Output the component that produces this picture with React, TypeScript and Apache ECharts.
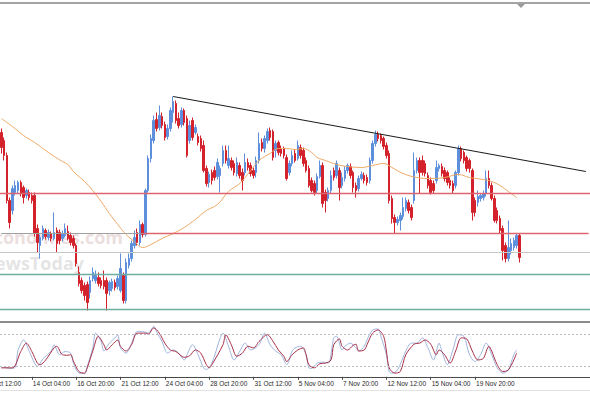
import React, { useEffect, useRef } from "react";
import * as echarts from "echarts";

// ---- data (price units are arbitrary) ----
// candles: [open, close, low, high], one per 4H bar
const candles: number[][] = [
  [198,183,177,202],[190,175,170,193],[175,130,127,178],[130,108,102,133],[120,142,116,145],
  [138,145,135,150],[140,148,137,150],[148,137,134,150],[143,133,127,145],[135,140,132,142],
  [138,133,130,141],[135,130,127,138],[135,97,94,138],[102,88,78,106],[85,93,72,96],
  [92,102,90,105],[100,94,91,102],[93,98,90,101],[97,92,89,99],[92,98,90,118],
  [100,87,78,103],[98,90,86,101],[92,97,89,100],[95,102,93,107],[99,92,90,105],
  [95,88,85,98],[92,85,82,95],[85,67,64,87],[58,47,44,64],[50,40,37,53],
  [45,35,30,48],[46,28,20,49],[38,50,32,54],[52,58,49,63],[50,55,47,60],
  [53,47,44,58],[50,45,42,53],[50,44,41,60],[50,37,20,53],[40,48,35,50],
  [42,49,39,52],[48,43,40,51],[44,52,41,55],[40,62,38,77],[55,30,27,58],
  [30,68,27,72],[65,72,62,77],[72,87,69,90],[85,93,82,100],[98,88,85,102],
  [88,106,85,110],[106,96,93,108],[96,140,94,142],[140,172,138,175],[172,192,168,196],
  [190,210,187,215],[211,202,199,218],[203,215,200,225],[214,205,202,218],[206,193,190,209],
  [194,202,191,206],[202,220,199,223],[218,229,208,234],[227,210,207,230],[212,205,202,218],
  [206,220,203,223],[220,208,205,222],[212,175,173,215],[190,205,187,210],[210,193,190,213],
  [198,203,196,206],[194,188,185,197],[192,182,179,195],[185,160,158,190],[162,147,144,165],
  [148,156,143,159],[158,150,146,161],[160,153,150,164],[154,168,151,172],[155,162,138,165],
  [167,180,164,185],[180,170,167,185],[165,172,162,185],[170,163,160,173],[167,158,155,170],
  [157,168,154,173],[165,155,152,168],[158,150,140,162],[158,168,155,177],[168,163,160,172],
  [165,157,154,168],[160,155,152,163],[158,170,153,174],[170,187,167,198],[188,182,179,192],
  [182,192,178,195],[190,199,187,202],[200,193,190,203],[199,173,170,201],[180,187,173,190],
  [188,178,175,190],[182,177,174,185],[182,175,172,184],[173,152,150,176],[158,167,155,170],
  [167,175,164,180],[177,170,168,181],[172,185,170,190],[183,175,172,186],[180,167,164,183],
  [170,160,158,173],[162,145,143,165],[150,140,138,153],[147,138,135,150],[140,154,137,157],
  [154,165,152,170],[165,127,123,168],[138,130,118,141],[132,140,129,143],[140,155,137,160],
  [160,153,150,163],[155,167,152,170],[160,143,130,163],[145,153,142,158],[152,160,149,164],
  [160,165,157,167],[164,155,152,167],[158,143,138,160],[145,140,133,148],[142,152,139,155],
  [152,156,150,159],[155,150,147,158],[153,148,145,156],[150,170,147,173],[170,187,167,190],
  [187,196,184,200],[196,192,189,199],[195,190,187,197],[192,184,181,194],[185,175,172,188],
  [177,130,127,180],[132,112,107,135],[113,108,97,116],[108,111,105,114],[110,115,100,118],
  [114,123,111,133],[122,130,119,133],[128,120,117,131],[123,113,110,126],[130,160,127,178],
  [160,170,157,173],[170,158,137,173],[170,158,155,175],[167,157,154,170],[155,145,142,158],
  [150,138,136,153],[147,140,137,150],[150,163,147,170],[162,165,159,167],[164,157,154,167],
  [160,152,149,163],[158,148,145,160],[150,145,142,153],[147,140,137,150],[145,158,142,160],
  [158,182,155,185],[182,172,169,184],[178,170,167,180],[173,162,159,175],[170,162,158,172],
  [160,118,110,162],[130,118,114,133],[128,134,124,140],[132,135,129,137],[133,137,130,140],
  [137,152,134,160],[152,145,142,160],[145,132,130,148],[132,110,108,135],[120,110,107,123],
  [112,100,97,115],[102,80,70,105],[85,72,68,88],[72,83,69,110],[80,87,76,92],
  [83,90,80,93],[85,95,82,97],[95,73,68,97],
];

// moving average, read at [bar index, value]
const maPoints: number[][] = [
  [0,212],[4,204],[8,195],[12,188],[17,178],[22,169],[24,166],[26,159],[30,149],[33,140],
  [36,129],[39,117],[42,106],[45,96],[48,89],[51,83],[54,86],[58,92],[62,97],[66,103],
  [70,111],[74,120],[78,126],[82,139],[86,147],[90,160],[93,170],[97,177],[100,182],[103,182],
  [106,181],[109,182],[112,178],[114,173],[117,170],[121,166],[125,164],[130,163],[134,165],[138,167],
  [141,163],[145,157],[150,153],[155,152],[160,153],[165,156],[169,153],[174,151],[177,149],[180,145],
  [183,139],[186,133],
];

// stochastic %K and %D, read at [bar index, value 0..100]
const stochK: number[][] = [
  [0,17],[1,18],[3,16],[5,18],[6,50],[8,70],[10,49],[12,26],[13,20],[15,34],[18,49],[19,61],
  [21,42],[23,48],[25,45],[26,26],[28,7],[30,6],[31,20],[33,55],[34,83],[36,67],[37,49],[39,64],
  [41,74],[42,80],[43,55],[45,45],[47,64],[49,86],[51,86],[53,83],[55,96],[56,86],[58,67],[60,45],
  [62,51],[64,45],[66,32],[67,42],[69,61],[71,42],[73,17],[74,14],[76,26],[79,74],[80,83],[82,58],
  [84,32],[86,48],[88,64],[90,51],[93,61],[95,83],[97,61],[99,49],[101,42],[103,23],[105,49],[106,55],
  [108,58],[110,42],[111,17],[112,16],[114,26],[116,28],[118,26],[120,74],[121,77],[123,51],[124,58],
  [126,64],[128,55],[129,49],[131,58],[132,70],[134,89],[136,91],[137,77],[139,42],[140,10],[141,7],
  [143,13],[146,49],[148,64],[150,64],[152,74],[154,55],[156,32],[158,64],[159,49],[161,23],[163,51],
  [165,80],[167,77],[169,42],[171,29],[173,42],[175,64],[177,42],[179,17],[181,7],[183,13],[185,42],
  [186,51],
];
const stochD: number[][] = [
  [0,17],[4,17],[7,48],[9,64],[11,48],[13,26],[14,23],[16,32],[19,55],[20,58],[22,42],[24,41],
  [25,42],[26,30],[28,10],[30,7],[31,17],[33,49],[35,77],[37,61],[38,51],[40,61],[42,70],[43,58],
  [45,49],[47,61],[49,83],[52,83],[53,81],[55,93],[57,83],[59,64],[61,51],[63,48],[66,37],[68,40],
  [70,51],[72,45],[74,23],[75,17],[76,23],[80,61],[81,80],[83,61],[85,39],[87,45],[89,58],[91,55],
  [93,67],[96,80],[98,68],[100,51],[102,39],[103,29],[105,42],[107,51],[109,55],[110,42],[111,23],
  [113,17],[115,25],[117,26],[119,32],[120,61],[122,72],[123,58],[125,51],[127,60],[128,62],[129,49],
  [131,51],[132,61],[134,83],[136,89],[138,77],[139,49],[140,17],[142,7],[144,10],[146,42],[149,62],
  [151,64],[153,70],[155,62],[157,42],[158,51],[160,42],[162,26],[164,49],[166,74],[168,72],[170,49],
  [172,32],[174,35],[176,58],[177,49],[179,23],[181,10],[183,13],[185,32],[186,45],
];

// time axis: total bar slots visible and the labelled bars
const slotCount = 213;
const tickIndex = [11, 27, 43, 59, 75, 91, 107, 123, 139, 155, 171];
const tickLabels = [
  "14 Oct 04:00", "16 Oct 20:00", "21 Oct 12:00", "24 Oct 04:00", "28 Oct 20:00",
  "31 Oct 12:00", "5 Nov 04:00", "7 Nov 20:00", "12 Nov 12:00", "15 Nov 04:00", "19 Nov 20:00",
];
const cutLabel = "9 Oct 12:00";

// drawn levels
const redLevels = [137];
const redRay = { from: 51, value: 97 };
const grayLevels = [78];
const greenLevels = [56, 21];
const trendLine = { from: [62, 234], to: [211, 159] };
const stochLevels = [20, 80];

const BLUE = "#5d8fdc";
const RED = "#d3222b";
const LEVEL_RED = "#de6470";
const LEVEL_GREEN = "#6fae9f";

export default function App() {
  const ref = useRef<HTMLDivElement>(null);
  useEffect(() => {
    if (!ref.current) return;
    const chart = echarts.init(ref.current, undefined, { renderer: "svg" });
    const categories = Array.from({ length: slotCount }, (_, i) => String(i));
    const showTick = (i: number) => tickIndex.indexOf(i) >= 0;
    const ls = (color: string, width = 1, type: any = "solid") => ({ color, width, type, opacity: 1 });
    const option: any = {
      animation: false,
      backgroundColor: "#ffffff",
      grid: [
        { left: 0, right: 0, top: 4.5, height: 317 },
        { left: 0, right: 0, top: 324.2, height: 52.6 },
      ],
      xAxis: [
        {
          type: "category", gridIndex: 0, data: categories, boundaryGap: true,
          axisLine: { show: true, lineStyle: { color: "#8c8c8c", width: 2 } },
          axisTick: { show: false }, axisLabel: { show: false }, splitLine: { show: false },
        },
        {
          type: "category", gridIndex: 1, data: categories, boundaryGap: true,
          axisLine: { show: true, lineStyle: { color: "#4a4a4a", width: 1 } },
          axisTick: { show: true, alignWithLabel: true, interval: showTick, length: 3, lineStyle: { color: "#4a4a4a" } },
          axisLabel: {
            show: true, interval: showTick, align: "left", margin: 3, padding: [0, 0, 0, 1],
            fontSize: 6.5, color: "#2a2a2a", fontFamily: "Liberation Sans, Arial, sans-serif",
            formatter: (_v: string, idx: number) => {
              const k = tickIndex.indexOf(idx);
              return k >= 0 ? tickLabels[k] : "";
            },
          },
          splitLine: { show: false },
        },
      ],
      yAxis: [
        { type: "value", gridIndex: 0, min: 9, max: 326, show: false, splitLine: { show: false } },
        { type: "value", gridIndex: 1, min: 0, max: 100, show: false, splitLine: { show: false } },
      ],
      graphic: [
        { type: "text", z: 0, x: 123, y: 237, style: { text: "Economies.com", align: "right", verticalAlign: "middle", font: "bold 18px 'Open Sans', sans-serif", fill: "rgba(210,180,180,0.45)" } },
        { type: "text", z: 0, x: 84, y: 263, style: { text: "NewsToday", align: "right", verticalAlign: "middle", font: "bold 18px 'Open Sans', sans-serif", fill: "rgba(195,195,195,0.45)" } },
        { type: "line", z: 10, shape: { x1: 0, y1: 3, x2: 590, y2: 3 }, style: { stroke: "#a3a3a3", lineWidth: 2 } },
        { type: "polygon", z: 10, shape: { points: [[517, 4], [525, 4], [521, 8]] }, style: { fill: "#9a9a9a" } },
        { type: "line", z: 10, shape: { x1: 0, y1: 390.5, x2: 590, y2: 390.5 }, style: { stroke: "#e2e2e2", lineWidth: 1 } },
        { type: "text", z: 10, x: -12.5, y: 379.8, style: { text: cutLabel, verticalAlign: "top", font: "6.5px 'Liberation Sans', Arial, sans-serif", fill: "#2a2a2a" } },
      ],
      series: [
        {
          type: "line", name: "levels", xAxisIndex: 0, yAxisIndex: 0, data: [], z: 1,
          color: LEVEL_RED,
          markLine: {
            symbol: "none", silent: true, label: { show: false },
            lineStyle: ls(LEVEL_RED, 1.4),
            data: [
              ...redLevels.map((v) => ({ yAxis: v, lineStyle: ls(LEVEL_RED, 1.4) })),
              [{ coord: [redRay.from, redRay.value], lineStyle: ls(LEVEL_RED, 1.4) }, { coord: [slotCount - 1, redRay.value] }],
              [{ coord: [0, redRay.value], lineStyle: ls("#a0a0a0", 1) }, { coord: [redRay.from, redRay.value] }],
              ...grayLevels.map((v) => ({ yAxis: v, lineStyle: ls("#c6c6c6", 1) })),
              ...greenLevels.map((v) => ({ yAxis: v, lineStyle: ls(LEVEL_GREEN, 1.3) })),
            ],
          },
        },
        {
          type: "candlestick", name: "price", xAxisIndex: 0, yAxisIndex: 0, data: candles, z: 3,
          barWidth: 2,
          itemStyle: { color: BLUE, color0: RED, borderColor: BLUE, borderColor0: RED, borderWidth: 1 },
          markLine: {
            symbol: "none", silent: true, label: { show: false },
            lineStyle: ls("#1a1a1a", 1),
            data: [[{ coord: trendLine.from, lineStyle: ls("#1a1a1a", 1) }, { coord: trendLine.to }]],
          },
        },
        {
          type: "line", name: "MA", xAxisIndex: 0, yAxisIndex: 0, data: maPoints, z: 4,
          smooth: 0.4, showSymbol: false, connectNulls: true,
          lineStyle: { color: "#efaa66", width: 1 },
        },
        {
          type: "line", name: "%K", xAxisIndex: 1, yAxisIndex: 1, data: stochK, z: 3,
          smooth: 0.3, showSymbol: false,
          lineStyle: { color: "#9fb4dc", width: 1 },
          markLine: {
            symbol: "none", silent: true, label: { show: false },
            lineStyle: ls("#bdbdbd", 1, [2, 2]),
            data: stochLevels.map((v) => ({ yAxis: v, lineStyle: ls("#bdbdbd", 1, [2, 2]) })),
          },
        },
        {
          type: "line", name: "%D", xAxisIndex: 1, yAxisIndex: 1, data: stochD, z: 4,
          smooth: 0.3, showSymbol: false,
          lineStyle: { color: "#a83048", width: 1 },
        },
      ],
    };
    chart.setOption(option);
    return () => chart.dispose();
  }, []);
  return (
    <div
      ref={ref}
      style={{ position: "fixed", left: 0, top: 0, width: 590, height: 393, background: "#fff" }}
    />
  );
}
